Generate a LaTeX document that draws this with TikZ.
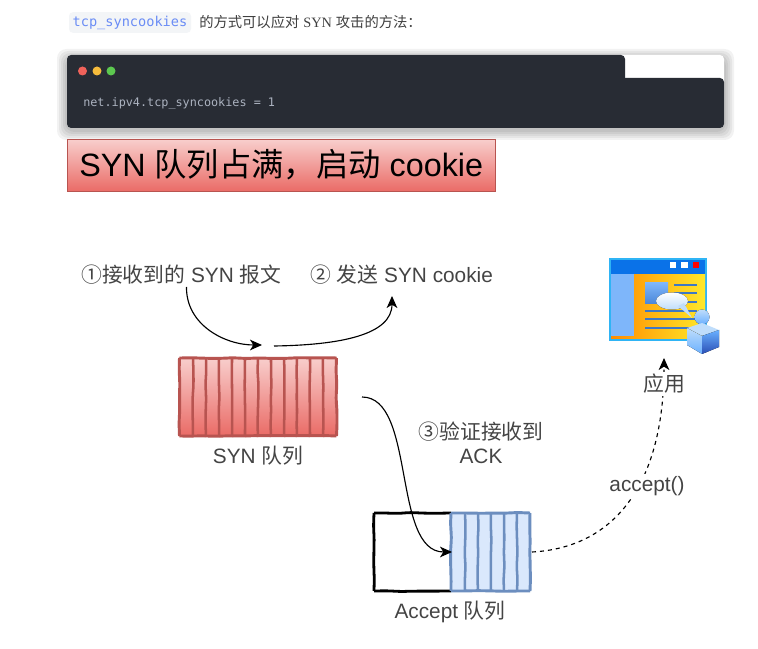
\documentclass[tikz,border=0pt]{standalone}
\usepackage{fontspec}
\setmainfont{Liberation Sans}
\newfontfamily\cjk{Noto Sans CJK SC}
\newfontfamily\monof{DejaVu Sans Mono}
\newfontfamily\serif{Liberation Serif}
\usetikzlibrary{arrows.meta,decorations.pathmorphing}
\definecolor{codebg}{HTML}{282C34}
\definecolor{labelc}{HTML}{444444}
\definecolor{redline}{HTML}{B85450}
\definecolor{blueline}{HTML}{6C8EBF}
\definecolor{bluefill}{HTML}{DAE8FC}
\definecolor{gtop}{HTML}{F8CECC}
\definecolor{gbot}{HTML}{EA6B66}
\definecolor{chipbg}{HTML}{F3F5F7}
\definecolor{chipfg}{HTML}{6A8CF5}
\definecolor{codefg}{HTML}{ABB2BF}
\definecolor{dotr}{HTML}{F0625A}
\definecolor{doty}{HTML}{F7BC3C}
\definecolor{dotg}{HTML}{5CC84F}
\definecolor{icframe}{HTML}{2FB4F5}
\definecolor{icbar}{HTML}{0A72E8}
\definecolor{icpanel}{HTML}{7EB6FA}
\definecolor{icorange}{HTML}{FF8C00}
\definecolor{icyellow}{HTML}{FFE82A}
\definecolor{icline}{HTML}{3F78C4}
\definecolor{icpict}{HTML}{4A86D8}
\definecolor{icpale}{HTML}{BFDDFB}
\definecolor{icmid}{HTML}{6AB0FF}
\definecolor{icdeep}{HTML}{2A4FB5}
\newcommand{\zh}[1]{{\cjk #1}}
\newcommand{\pxs}[1]{\fontsize{\dimexpr#1pt*3/4\relax}{\dimexpr#1pt\relax}\selectfont}
\tikzset{
  lbl/.style={text=labelc,inner sep=0pt,font=\pxs{20.8}},
  wob/.style={decorate,decoration={random steps,segment length=10pt,amplitude=0.4pt},rounded corners=3pt},
  flow/.style={draw=black,line width=0.85pt,-{Stealth[length=9pt,width=8pt,inset=2.5pt]}},
  qbox/.style={minimum width=#1*0.75pt,minimum height=58.5pt,inner sep=0pt,outer sep=0pt},
  docline/.style={draw=icline,line width=1.3pt},
}
\begin{document}
\begin{tikzpicture}[x=0.75pt,y=-0.75pt]
\useasboundingbox[fill=white] (0,0) rectangle (758,649);
% intro line
\node[fill=chipbg,rounded corners=3pt,minimum width=91.5pt,minimum height=15.5pt,inner sep=0pt] (chip) at (130,22.5) {};
\node[text=chipfg,font=\monof\pxs{13.6},inner sep=0pt] (chiptext) at (130,22.5) {tcp\_syncookies};
\node[anchor=base west,inner sep=0pt,text=black!75,font=\pxs{14.3}] (intro) at (199,28) {\zh{的方式可以应对} {\serif SYN} \zh{攻击的方法：}};
% code block
\foreach \i in {10,8,6,4,2}{
  \fill[black,opacity=0.05,rounded corners=7pt] (67-\i,55-\i+4) rectangle (724+\i,128+\i+2);
}
\fill[white,rounded corners=3pt] (67,55) rectangle (724,128);
\fill[codebg,rounded corners=3pt] (67,78) rectangle (724,128);
\fill[codebg,rounded corners=3pt] (67,55) rectangle (625,100);
\fill[dotr] (82.5,71) circle (4.5);
\fill[doty] (97,71) circle (4.5);
\fill[dotg] (111,71) circle (4.5);
\node[anchor=base west,inner sep=0pt,text=codefg,font=\monof\pxs{11.8}] (code) at (83,107) {net.ipv4.tcp\_syncookies = 1};
% banner
\node[anchor=north west,top color=gtop,bottom color=gbot,draw=redline,line width=0.6pt,minimum width=321pt,minimum height=39pt,inner sep=0pt] (banner) at (67,139) {};
\node[anchor=base west,inner sep=0pt,text=black,font=\pxs{32.3}] (bannertext) at (79,177) {SYN \zh{队列占满，启动} cookie};
% labels
\node[lbl,anchor=west] (recv) at (81,275) {\zh{①接收到的} SYN \zh{报文}};
\node[lbl,anchor=west] (send) at (310,275) {\zh{②} \zh{发送} SYN cookie};
\node[lbl] (synq) at (258,456) {SYN \zh{队列}};
\node[lbl] (acq) at (450,612) {Accept \zh{队列}};
\node[lbl,align=center] (verify) at (481,443) {\zh{③验证接收到}\\[-2.75pt]ACK};
% SYN queue
\node[qbox=157,anchor=north west,top color=gtop,bottom color=gbot] (syn) at (179.5,358) {};
\foreach \x in {193,206,219,232,245,258,271,284,297,310,323}{
  \draw[redline,line width=1.9pt,wob] (\x,358) -- (\x,437);
}
\draw[redline,line width=2.2pt,wob] (syn.north west) -- (syn.north east);
\draw[redline,line width=2.2pt,wob] (syn.north east) -- (syn.south east);
\draw[redline,line width=2.2pt,wob] (syn.south east) -- (syn.south west);
\draw[redline,line width=2.2pt,wob] (syn.south west) -- (syn.north west);
% Accept queue
\node[qbox=79,anchor=north west,fill=bluefill] (acc) at (451,513) {};
\node[qbox=77,anchor=north east,fill=white] (ept) at (451,513) {};
\draw[black,line width=2.1pt,wob] (ept.north east) -- (ept.north west);
\draw[black,line width=2.1pt,wob] (ept.north west) -- (ept.south west);
\draw[black,line width=2.1pt,wob] (ept.south west) -- (ept.south east);
\foreach \x in {465,478,491,504,517}{
  \draw[blueline,line width=1.9pt,wob] (\x,513) -- (\x,591);
}
\draw[blueline,line width=2.2pt,wob] (acc.north west) -- (acc.north east);
\draw[blueline,line width=2.2pt,wob] (acc.north east) -- (acc.south east);
\draw[blueline,line width=2.2pt,wob] (acc.south east) -- (acc.south west);
\draw[blueline,line width=2.2pt,wob] (acc.south west) -- (acc.north west);
% application icon
\node[anchor=north west,minimum width=73.5pt,minimum height=62pt,inner sep=0pt,fill=icframe] (win) at (609,258) {};
\fill[left color=icorange,right color=icyellow] (611,274) rectangle (705,339);
\fill[icbar] (611,260) rectangle (705,274);
\fill[white] (669.5,262) rectangle +(6.5,6.5);
\fill[white] (681,262) rectangle +(6.5,6.5);
\fill[red] (692.5,262) rectangle +(6.5,6.5);
\fill[icpanel] (611,274) rectangle (634,336.5);
\fill[top color=icpanel,bottom color=icpict] (645,283) rectangle (668,304);
\foreach \y in {285,293,302}{\draw[docline] (674,\y) -- (697,\y);}
\foreach \y in {311,319,328}{\draw[docline] (645,\y) -- (697,\y);}
\fill[top color=white,bottom color=icpale] (672,301) ellipse (16 and 8.5);
\fill[icpale] (678,306) -- (692,318) -- (684,303) -- cycle;
\fill[top color=icpale,bottom color=icmid] (702,317) circle (7.5);
\fill[icpale] (687,328) -- (702,323) -- (719,330) -- (702,336) -- cycle;
\fill[top color=icpale,bottom color=icmid] (687,328) -- (702,336) -- (702,354) -- (687,345) -- cycle;
\fill[top color=icmid,bottom color=icdeep] (702,336) -- (719,330) -- (719,347) -- (702,354) -- cycle;
% flows
\coordinate (a1) at (186.5,287);
\coordinate (a2) at (262,345);
\coordinate (b1) at (274,346);
\coordinate (b2) at (392,296);
\coordinate (c1) at (362,397);
\coordinate (c2) at (452,552);
\coordinate (d1) at (532,552);
\coordinate (d2) at (664,358);
\draw[flow] (a1) .. controls (186,325) and (225,345) .. (a2);
\draw[flow] (b1) .. controls (340,345) and (392,335) .. (b2);
\draw[flow] (c1) .. controls (416,397) and (392,552) .. (c2);
\draw[flow,dashed] (d1) .. controls (610,548) and (664,490) .. (d2);
\node[lbl,fill=white,inner sep=2pt] (accept) at (647,486) {accept()};
\node[lbl,fill=white,inner sep=2pt] (app) at (664,384) {\zh{应用}};
\end{tikzpicture}
\end{document}
